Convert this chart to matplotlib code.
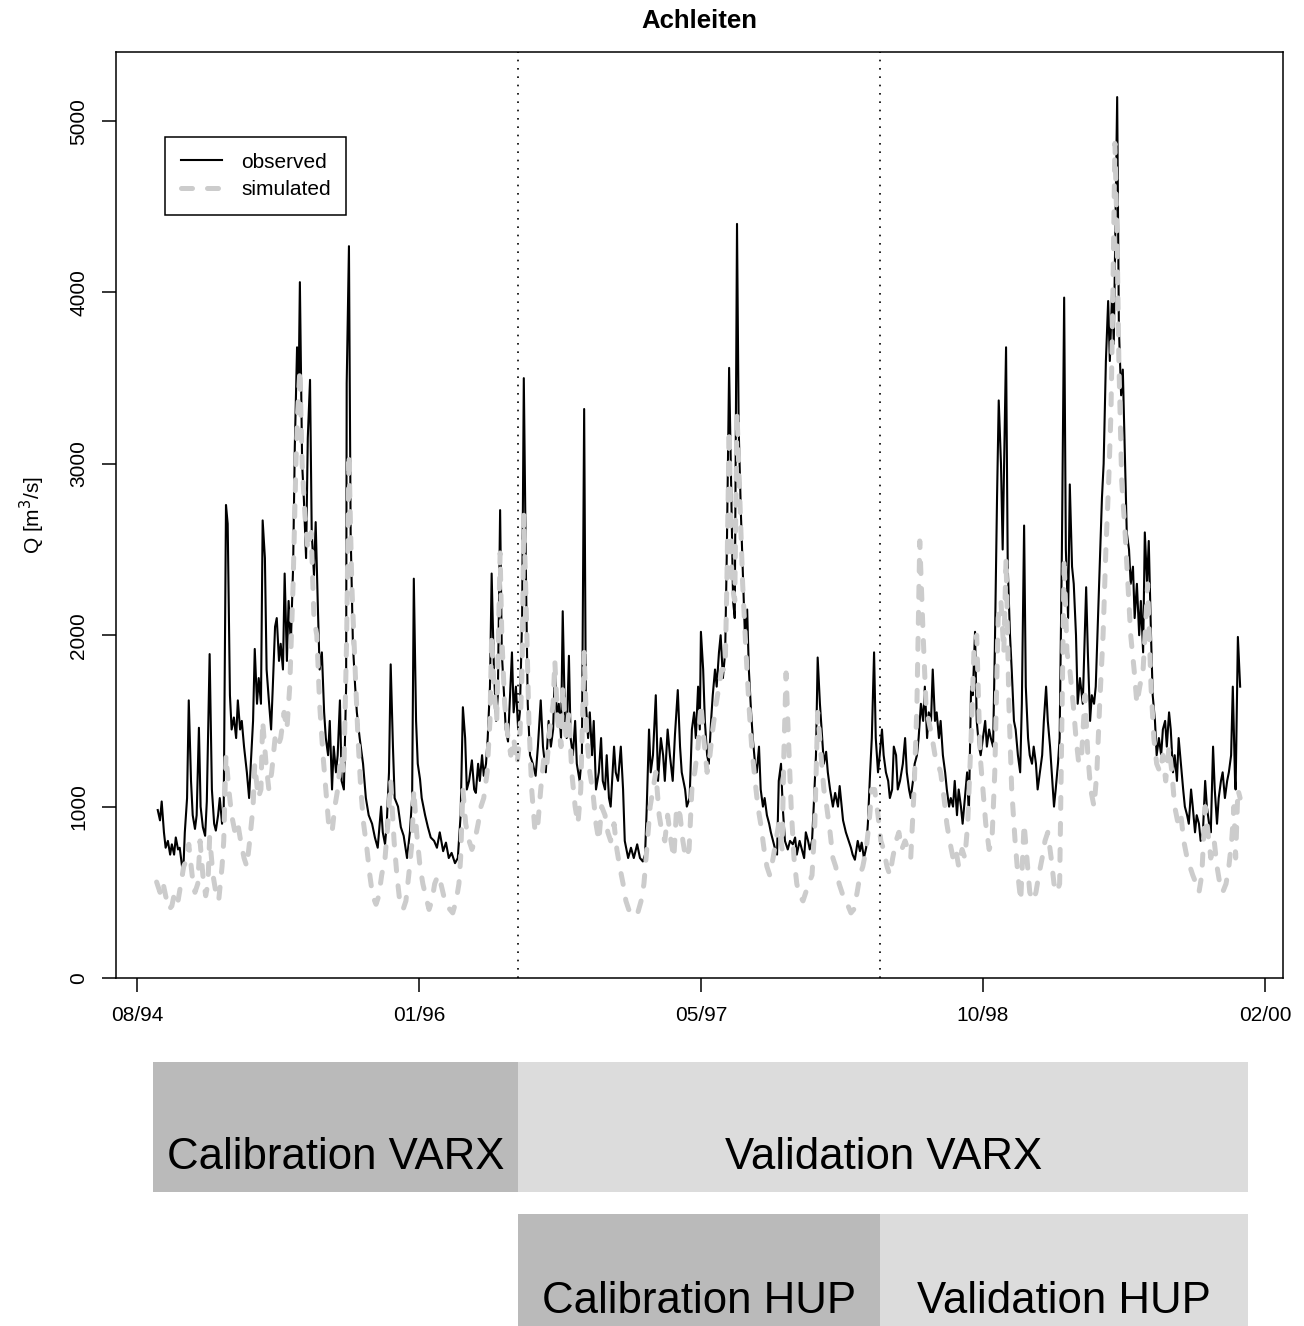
import matplotlib
matplotlib.use("Agg")
from matplotlib import pyplot as plt

plt.rcParams['font.family'] = ['Liberation Sans', 'DejaVu Sans']

# days since the 08/94 tick
obs_day = [37, 41, 44, 48, 51, 55, 59, 62, 66, 69,
           73, 76, 82, 85, 89, 92, 96, 99, 103, 106,
           110, 113, 117, 121, 124, 129, 133, 137, 140, 144,
           147, 151, 154, 158, 161, 165, 168, 172, 176, 179,
           183, 186, 190, 195, 199, 202, 206, 209, 213, 216,
           220, 223, 227, 230, 234, 238, 241, 245, 248, 252,
           255, 259, 262, 266, 269, 273, 277, 280, 284, 287,
           289, 293, 296, 300, 303, 307, 310, 314, 317, 321,
           324, 328, 332, 335, 339, 342, 346, 349, 353, 356,
           360, 363, 367, 371, 372, 376, 379, 383, 387, 390,
           395, 401, 406, 411, 417, 422, 427, 433, 436, 440,
           443, 447, 450, 454, 457, 463, 468, 473, 479, 484,
           488, 491, 495, 498, 502, 505, 511, 516, 521, 527,
           532, 537, 543, 548, 553, 558, 564, 569, 574, 578,
           582, 585, 589, 594, 598, 601, 605, 608, 612, 615,
           619, 622, 626, 629, 633, 637, 640, 644, 647, 651,
           654, 658, 661, 665, 668, 672, 676, 679, 683, 686,
           690, 693, 697, 702, 707, 711, 716, 720, 725, 730,
           734, 738, 741, 745, 748, 752, 755, 759, 762, 766,
           769, 773, 777, 780, 785, 789, 793, 796, 800, 803,
           807, 810, 814, 819, 823, 826, 830, 833, 837, 840,
           846, 849, 853, 858, 862, 865, 871, 876, 881, 887,
           892, 897, 901, 904, 908, 911, 915, 920, 924, 929,
           933, 936, 941, 945, 950, 954, 959, 963, 966, 972,
           975, 980, 984, 988, 991, 995, 998, 1000, 1004, 1007,
           1011, 1014, 1018, 1021, 1025, 1028, 1032, 1035, 1039, 1043,
           1046, 1050, 1053, 1057, 1060, 1064, 1067, 1071, 1074, 1078,
           1082, 1085, 1089, 1092, 1096, 1099, 1103, 1106, 1110, 1113,
           1117, 1121, 1124, 1128, 1131, 1135, 1138, 1142, 1145, 1149,
           1154, 1158, 1163, 1167, 1170, 1175, 1179, 1183, 1186, 1190,
           1193, 1197, 1200, 1204, 1207, 1211, 1215, 1218, 1222, 1225,
           1229, 1234, 1238, 1243, 1246, 1252, 1257, 1262, 1266, 1269,
           1273, 1278, 1282, 1285, 1289, 1293, 1296, 1300, 1303, 1307,
           1310, 1314, 1317, 1321, 1324, 1328, 1332, 1335, 1339, 1342,
           1346, 1349, 1353, 1358, 1362, 1365, 1369, 1372, 1376, 1379,
           1383, 1386, 1390, 1394, 1397, 1401, 1404, 1408, 1411, 1415,
           1418, 1422, 1425, 1429, 1433, 1436, 1440, 1443, 1447, 1450,
           1454, 1457, 1461, 1464, 1468, 1472, 1475, 1479, 1482, 1486,
           1489, 1493, 1496, 1500, 1504, 1507, 1511, 1514, 1518, 1521,
           1525, 1528, 1532, 1535, 1541, 1544, 1548, 1551, 1555, 1558,
           1562, 1566, 1569, 1573, 1576, 1580, 1583, 1587, 1590, 1594,
           1597, 1601, 1605, 1608, 1612, 1615, 1619, 1622, 1626, 1629,
           1633, 1636, 1640, 1644, 1647, 1651, 1654, 1658, 1661, 1665,
           1668, 1672, 1677, 1683, 1686, 1690, 1693, 1697, 1700, 1704,
           1707, 1711, 1714, 1718, 1722, 1725, 1729, 1732, 1738, 1741,
           1745, 1748, 1752, 1755, 1759, 1762, 1766, 1769, 1773, 1777,
           1780, 1784, 1787, 1791, 1794, 1798, 1801, 1805, 1808, 1812,
           1816, 1819, 1823, 1826, 1830, 1833, 1837, 1840, 1844, 1847,
           1851, 1855, 1858, 1862, 1865, 1869, 1872, 1876, 1879, 1883,
           1886, 1890, 1894, 1897, 1901, 1904, 1908, 1911, 1915, 1918,
           1922, 1925, 1929, 1933, 1936, 1940, 1943, 1947, 1948, 1952,
           1956]
obs_q = [980, 920, 1030, 850, 760, 800, 720, 780, 720, 820,
         750, 760, 600, 850, 1050, 1620, 1150, 950, 870, 950,
         1460, 1000, 880, 830, 1030, 1890, 1100, 900, 860, 950,
         1050, 900, 1000, 2760, 2650, 1650, 1450, 1520, 1400, 1620,
         1450, 1500, 1350, 1200, 1050, 1250, 1500, 1920, 1600, 1750,
         1600, 2670, 2450, 1800, 1620, 1450, 1700, 2050, 2100, 1850,
         1950, 1800, 2360, 1850, 2200, 1950, 2400, 3100, 3680, 3500,
         4060, 3000, 2800, 2450, 3150, 3490, 2600, 2350, 2660, 2150,
         1800, 1900, 1550, 1400, 1300, 1500, 1100, 1350, 1200, 1300,
         1620, 1150, 1100, 1700, 3470, 4270, 2600, 1950, 1700, 1550,
         1400, 1250, 1050, 950, 900, 820, 760, 1000, 850, 780,
         900, 1200, 1830, 1350, 1050, 1000, 880, 830, 700, 850,
         1050, 2330, 1500, 1250, 1160, 1050, 950, 880, 820, 800,
         760, 850, 740, 790, 700, 730, 670, 700, 950, 1580,
         1400, 1100, 1150, 1270, 1100, 1080, 1250, 1150, 1300, 1180,
         1250, 1400, 1700, 2360, 1800, 1500, 1650, 2730, 1900, 1650,
         1450, 1380, 1600, 1900, 1550, 1700, 1450, 1550, 2100, 3500,
         2300, 1600, 1300, 1250, 1180, 1350, 1620, 1350, 1200, 1500,
         1350, 1450, 1800, 1500, 1600, 1400, 2140, 1500, 1400, 1880,
         1400, 1300, 1500, 1250, 1150, 1300, 3320, 1600, 1400, 1550,
         1300, 1500, 1100, 1200, 1400, 1150, 1100, 1300, 1050, 1000,
         1350, 1200, 1150, 1350, 1100, 800, 700, 760, 700, 780,
         700, 680, 720, 1000, 1450, 1200, 1300, 1650, 1150, 1400,
         1300, 1150, 1450, 1300, 1150, 1420, 1680, 1350, 1200, 1100,
         1000, 1050, 1450, 1550, 1400, 1700, 1450, 2020, 1800, 1500,
         1300, 1250, 1500, 1650, 1800, 1700, 1900, 2000, 1750, 1900,
         2500, 3560, 3000, 2200, 2100, 4400, 3200, 2700, 2400, 2000,
         2150, 1800, 1550, 1400, 1250, 1200, 1350, 1100, 1000, 1050,
         950, 900, 850, 800, 760, 720, 1150, 1250, 1000, 800,
         750, 800, 780, 820, 720, 800, 750, 700, 850, 800,
         750, 800, 1000, 1300, 1870, 1600, 1400, 1250, 1320, 1200,
         1100, 1000, 1080, 1000, 1120, 920, 850, 800, 760, 720,
         690, 800, 740, 790, 700, 760, 900, 1200, 1400, 1900,
         1400, 1200, 1300, 1450, 1300, 1200, 1150, 1050, 1100, 1350,
         1300, 1100, 1150, 1250, 1400, 1200, 1100, 1050, 1150, 1250,
         1300, 1400, 1600, 1500, 1700, 1400, 1550, 1500, 1800, 1500,
         1550, 1400, 1500, 1300, 1200, 1100, 1000, 1050, 1000, 1150,
         950, 1100, 1000, 900, 1050, 1200, 950, 1700, 1650, 2020,
         1500, 1350, 1300, 1400, 1500, 1350, 1450, 1400, 1350, 1900,
         2800, 3370, 3000, 2500, 3680, 2400, 2000, 1800, 1500, 1450,
         1300, 1200, 1600, 2640, 1700, 1400, 1300, 1250, 1350, 1250,
         1100, 1200, 1300, 1500, 1700, 1500, 1350, 1200, 1000, 1100,
         1250, 1400, 2500, 3970, 2500, 2100, 2880, 2400, 2300, 2000,
         1600, 1750, 1600, 2280, 1900, 1500, 1650, 1600, 1700, 2100,
         2400, 2800, 3000, 3600, 3950, 3600, 4000, 3700, 5140, 3800,
         3400, 3550, 3000, 2600, 2500, 2300, 2400, 2100, 2300, 2000,
         2200, 1900, 2600, 2300, 2550, 2000, 1650, 1500, 1300, 1400,
         1300, 1450, 1500, 1350, 1550, 1450, 1200, 1300, 1150, 1400,
         1250, 1100, 1000, 950, 900, 1100, 1000, 850, 950, 900,
         800, 850, 1150, 1000, 900, 850, 1350, 1100, 900, 1050,
         1150, 1200, 1050, 1150, 1200, 1300, 1700, 1150, 1100, 1990,
         1700]

sim_day = [35, 41, 46, 51, 57, 62, 67, 73, 78, 83,
           89, 92, 98, 103, 108, 112, 117, 122, 126, 129,
           135, 140, 145, 151, 154, 158, 163, 168, 174, 179,
           184, 190, 195, 200, 206, 209, 215, 220, 223, 229,
           234, 239, 245, 250, 255, 261, 266, 271, 277, 282,
           285, 289, 293, 298, 303, 309, 314, 319, 324, 330,
           335, 340, 346, 351, 356, 362, 367, 372, 376, 381,
           387, 392, 397, 402, 408, 413, 418, 424, 429, 434,
           440, 445, 450, 456, 461, 466, 472, 477, 482, 488,
           491, 496, 502, 507, 512, 518, 523, 528, 534, 539,
           544, 550, 555, 560, 566, 571, 574, 578, 583, 589,
           594, 599, 605, 610, 615, 621, 626, 629, 633, 638,
           644, 647, 652, 658, 663, 668, 674, 679, 683, 686,
           690, 695, 700, 706, 711, 716, 722, 727, 732, 738,
           741, 746, 752, 755, 761, 766, 771, 777, 782, 787,
           793, 798, 803, 808, 814, 819, 824, 830, 835, 840,
           846, 851, 856, 862, 867, 872, 878, 883, 888, 894,
           899, 904, 910, 915, 920, 926, 931, 936, 941, 947,
           952, 957, 963, 968, 973, 979, 984, 989, 995, 1000,
           1005, 1011, 1016, 1021, 1027, 1032, 1037, 1043, 1046, 1050,
           1055, 1060, 1064, 1069, 1074, 1080, 1085, 1090, 1096, 1101,
           1106, 1112, 1117, 1122, 1128, 1133, 1138, 1144, 1147, 1151,
           1154, 1160, 1165, 1170, 1175, 1181, 1186, 1191, 1197, 1202,
           1207, 1213, 1218, 1223, 1229, 1234, 1239, 1245, 1250, 1255,
           1261, 1266, 1271, 1277, 1282, 1287, 1293, 1298, 1303, 1308,
           1314, 1319, 1324, 1330, 1335, 1340, 1346, 1351, 1356, 1362,
           1367, 1372, 1378, 1383, 1388, 1394, 1399, 1404, 1410, 1415,
           1420, 1425, 1431, 1436, 1441, 1447, 1452, 1457, 1463, 1468,
           1473, 1479, 1484, 1489, 1495, 1500, 1505, 1511, 1516, 1521,
           1527, 1532, 1537, 1541, 1546, 1551, 1557, 1562, 1567, 1573,
           1578, 1583, 1589, 1594, 1599, 1605, 1610, 1615, 1621, 1626,
           1631, 1636, 1640, 1644, 1649, 1654, 1660, 1665, 1670, 1675,
           1681, 1686, 1691, 1697, 1702, 1707, 1713, 1718, 1723, 1727,
           1730, 1734, 1738, 1741, 1746, 1752, 1757, 1762, 1768, 1773,
           1778, 1784, 1789, 1792, 1798, 1803, 1808, 1814, 1819, 1824,
           1830, 1835, 1840, 1846, 1851, 1856, 1862, 1867, 1872, 1878,
           1883, 1888, 1894, 1899, 1904, 1910, 1915, 1920, 1925, 1931,
           1936, 1941, 1945, 1948, 1952, 1956]
sim_q = [560, 500, 560, 480, 400, 420, 500, 450, 550, 650,
         700, 780, 600, 500, 550, 800, 600, 480, 550, 820,
         600, 500, 450, 650, 800, 1300, 1100, 950, 850, 900,
         800, 700, 650, 800, 1000, 1250, 1050, 1100, 1500, 1250,
         1100, 1200, 1400, 1350, 1400, 1550, 1450, 1700, 2300, 3000,
         3300, 3550, 3000, 2700, 2500, 2600, 2100, 2000, 1600, 1300,
         1100, 900, 850, 1000, 1100, 1300, 1200, 2000, 3060, 2300,
         1800, 1400, 1100, 900, 750, 600, 480, 430, 480, 600,
         700, 900, 1150, 800, 600, 450, 400, 450, 600, 800,
         1100, 850, 650, 550, 480, 400, 450, 550, 600, 550,
         480, 420, 400, 380, 450, 550, 700, 1100, 900, 800,
         750, 800, 900, 1000, 1050, 1200, 1500, 2000, 1700, 1500,
         2480, 2000, 1600, 1400, 1300, 1400, 1250, 1400, 1800, 2700,
         2200, 1500, 1100, 850, 900, 1100, 1300, 1250, 1450, 1600,
         1850, 1500, 1350, 1700, 1400, 1550, 1200, 1000, 900, 1100,
         1900, 1400, 1200, 1100, 900, 800, 1000, 950, 850, 800,
         900, 750, 650, 550, 450, 400, 370, 360, 380, 450,
         550, 750, 1000, 1100, 1200, 950, 850, 800, 950, 800,
         700, 1000, 950, 800, 700, 750, 1100, 1200, 1350, 1600,
         1400, 1200, 1300, 1450, 1600, 1700, 1800, 1800, 2300, 3200,
         2300, 2200, 3300, 2800, 2300, 1900, 1600, 1350, 1150, 1000,
         900, 750, 650, 600, 700, 800, 900, 750, 1300, 1780,
         1500, 1000, 700, 550, 480, 450, 500, 550, 600, 900,
         1550, 1300, 1100, 1000, 850, 700, 650, 550, 500, 450,
         420, 380, 400, 500, 600, 650, 750, 900, 1100, 1100,
         950, 800, 750, 650, 600, 700, 800, 850, 750, 800,
         750, 700, 1100, 1600, 2550, 2000, 1600, 1500, 1400, 1300,
         1250, 1200, 1050, 900, 800, 700, 750, 650, 750, 700,
         900, 1400, 1900, 2000, 1300, 1100, 900, 750, 800, 1200,
         2100, 2200, 1900, 2450, 1600, 1100, 800, 600, 450, 900,
         700, 500, 450, 500, 600, 700, 800, 850, 700, 550,
         500, 550, 1500, 2450, 1900, 1800, 1600, 1400, 1250, 1300,
         1650, 1300, 1100, 1000, 1200, 1600, 2000, 2500, 2900, 3300,
         3900, 4870, 4300, 3600, 2900, 2600, 2300, 2000, 1800, 1600,
         1700, 1800, 2100, 2300, 1700, 1400, 1250, 1200, 1300, 1150,
         1350, 1200, 1000, 900, 950, 800, 700, 650, 600, 550,
         500, 600, 1000, 850, 700, 800, 650, 550, 500, 550,
         650, 800, 1000, 700, 1100, 1050]

# calibration / validation periods (days)
period_start = 28
split_varx = 676
split_hup = 1318
period_end = 1970

tick_days = [0, 500, 1000, 1500, 2000]
tick_labels = ['08/94', '01/96', '05/97', '10/98', '02/00']

W, H = 1304, 1326
fig = plt.figure(figsize=(W / 100, H / 100), dpi=100)
ax = fig.add_axes([116 / W, 1 - 978 / H, (1283 - 116) / W, (978 - 52) / H])

ax.plot(obs_day, obs_q, color='black', lw=1.5, label='observed')
ax.plot(sim_day, sim_q, color='#cccccc', lw=3.6, dashes=(2.2, 3.0),
        dash_capstyle='round', label='simulated')
for d in [split_varx, split_hup]:
    ax.axvline(d, color='black', lw=1.2, linestyle=(0, (1, 4)))

ax.set_xlim(-37, 2032)
ax.set_ylim(0, 5403)
ax.set_xticks(tick_days)
ax.set_xticklabels(tick_labels)
ax.set_yticks([0, 1000, 2000, 3000, 4000, 5000])
ax.tick_params(length=10, width=1.1, labelsize=15, pad=10)
for lab in ax.get_yticklabels():
    lab.set_rotation(90)
    lab.set_va('center')
for s in ax.spines.values():
    s.set_linewidth(1.1)
ax.set_ylabel(r'Q [m$^3$/s]', fontsize=15, labelpad=16)

leg = ax.legend(loc='upper left', bbox_to_anchor=((165 - 116) / 1167, (978 - 137) / 926),
                borderaxespad=0, fontsize=15, frameon=True, fancybox=False,
                framealpha=1, edgecolor='black', handlelength=2.0,
                handletextpad=0.9, borderpad=0.75, labelspacing=0.4)
leg.get_frame().set_linewidth(1.1)

fig.text(699.5 / W, 1 - 21 / H, 'Achleiten', ha='center', va='center',
         fontsize=18.5, fontweight='bold')

# period bands below the plot
ax2 = fig.add_axes([116 / W, 0, (1283 - 116) / W, (1326 - 1040) / H])
ax2.set_xlim(-37, 2032)
ax2.set_ylim(286, 0)
ax2.axis('off')
dark = '#bababa'
light = '#dcdcdc'
ax2.barh(87, split_varx - period_start, left=period_start, height=130, color=dark)
ax2.barh(87, period_end - split_varx, left=split_varx, height=130, color=light)
ax2.barh(239, split_hup - split_varx, left=split_varx, height=130, color=dark)
ax2.barh(239, period_end - split_hup, left=split_hup, height=130, color=light)
ax2.text((period_start + split_varx) / 2, 129, 'Calibration VARX', ha='center',
         va='baseline', fontsize=31.5)
ax2.text((split_varx + period_end) / 2, 129, 'Validation VARX', ha='center',
         va='baseline', fontsize=31.5)
ax2.text((split_varx + split_hup) / 2, 273, 'Calibration HUP', ha='center',
         va='baseline', fontsize=31.5)
ax2.text((split_hup + period_end) / 2, 273, 'Validation HUP', ha='center',
         va='baseline', fontsize=31.5)

fig.savefig('out.png', dpi=100)
